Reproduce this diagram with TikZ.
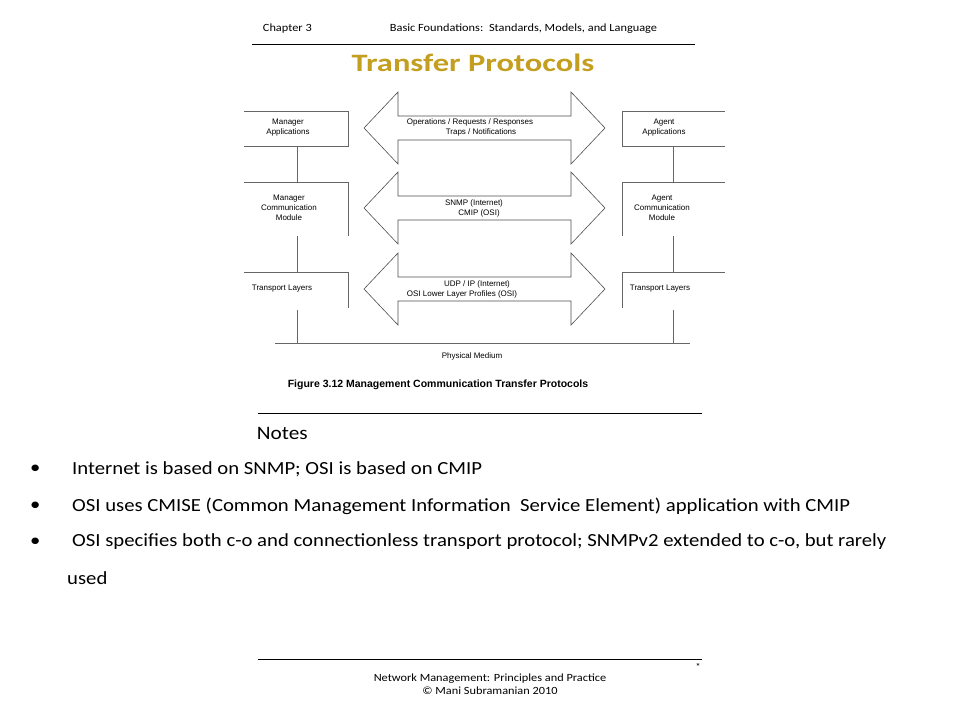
\documentclass[tikz,border=0pt]{standalone}
\usepackage{fontspec}
\setmainfont{Carlito}
\newfontfamily\arial{Liberation Sans}
\definecolor{gold}{RGB}{196,158,30}
\begin{document}
\begin{tikzpicture}[x=1pt,y=-1pt,
  lbl/.style={font=\arial\fontsize{8}{10}\selectfont,align=center,inner sep=0pt},
  ln/.style={draw=black!60,line width=0.6pt},
  big/.style={draw=black!70,line width=0.6pt},
  body/.style={anchor=west,inner sep=0pt,xscale=1.12,font=\fontsize{18.5}{20}\selectfont}]
\useasboundingbox (0,0) rectangle (960,720);
% header
\node[anchor=west,xscale=1.12,font=\fontsize{11}{13}\selectfont] (ch) at (259,29) {Chapter 3};
\node[anchor=west,xscale=1.12,font=\fontsize{11}{13}\selectfont] (bf) at (386,29) {Basic Foundations:\, Standards, Models, and Language};
\draw[line width=1pt] (252,44) -- (695,44);
\node[font=\bfseries\fontsize{25}{28}\selectfont,xscale=1.3,text=gold] (title) at (473,63) {Transfer Protocols};
% left boxes
\draw[ln] (244,111) -- (348,111) -- (348,146) -- (244,146);
\draw[ln] (244,182) -- (348,182) -- (348,236);
\draw[ln] (244,272) -- (348,272) -- (348,308);
\draw[ln] (622,146) -- (622,111) -- (725,111);
\draw[ln] (622,146) -- (725,146);
\draw[ln] (622,236) -- (622,182) -- (725,182);
\draw[ln] (622,308) -- (622,272) -- (725,272);
\node[lbl] (ma) at (288,128) {Manager\\Applications};
\node[lbl] (mc) at (289,208) {Manager\\Communication\\Module};
\node[lbl] (mt) at (282,289) {Transport Layers};
\node[lbl] (aa) at (664,128) {Agent\\Applications};
\node[lbl] (ac) at (662,208) {Agent\\Communication\\Module};
\node[lbl] (at) at (660,289) {Transport Layers};
\coordinate (pl) at (297,343);
\coordinate (pr) at (673,343);
\draw[ln] (297,146) -- (297,182) (297,236) -- (297,272) (297,310) -- (pl);
\draw[ln] (673,146) -- (673,182) (673,236) -- (673,272) (673,310) -- (pr);
\draw[ln] (275,343) -- (690,343);
\node[lbl] (pm) at (472,356) {Physical Medium};
\node[font=\arial\bfseries\fontsize{10.5}{12}\selectfont] (fig) at (438,385) {Figure 3.12 Management Communication Transfer Protocols};
% arrows
\foreach \c/\n in {128/a1,208/a2,289/a3}{
  \draw[big] (364,\c) -- (398,\c-36) -- (398,\c-12) -- (571,\c-12) -- (571,\c-36) -- (605,\c) -- (571,\c+36) -- (571,\c+12) -- (398,\c+12) -- (398,\c+36) -- cycle;
}
\node[lbl] (t1) at (470,127) {Operations / Requests / Responses\\\hspace*{22pt}Traps / Notifications};
\node[lbl] (t2) at (474,208) {SNMP (Internet)\\\hspace*{10pt}CMIP (OSI)};
\node[lbl] (t3) at (462,289) {\hspace*{30pt}UDP / IP (Internet)\\OSI Lower Layer Profiles (OSI)};
% notes
\draw[line width=1pt] (258,413) -- (702,413);
\node[anchor=west,xscale=1.12,font=\fontsize{19}{20}\selectfont] (notes) at (253,433) {Notes};
\node[body] (b1) at (30,469) {\textbullet};
\node[body] (n1) at (72,469) {Internet is based on SNMP; OSI is based on CMIP};
\node[body] (b2) at (30,506) {\textbullet};
\node[body] (n2) at (72,506) {OSI uses CMISE (Common Management Information\ \ Service Element) application with CMIP};
\node[body] (b3) at (30,542) {\textbullet};
\node[body] (n3) at (72,542) {OSI specifies both c-o and connectionless transport protocol; SNMPv2 extended to c-o, but rarely};
\node[body] (n4) at (67,578) {used};
% footer
\draw[line width=1pt] (258,659) -- (702,659);
\node[font=\fontsize{11}{13}\selectfont,xscale=1.12,align=center] (ft) at (490,684) {Network Management: Principles and Practice\\\copyright\ Mani Subramanian 2010};
\node[font=\fontsize{10}{12}\selectfont] (st) at (698,667) {*};
\end{tikzpicture}
\end{document}
